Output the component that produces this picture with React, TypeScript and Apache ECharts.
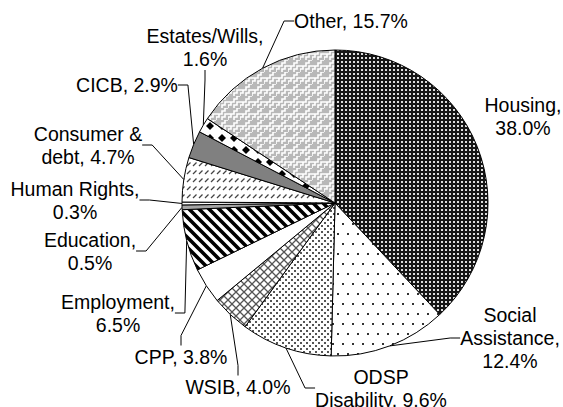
import React, { useEffect, useRef } from "react";
import * as echarts from "echarts";

const categories = [
  "Housing",
  "Social\nAssistance",
  "ODSP\nDisability",
  "WSIB",
  "CPP",
  "Employment",
  "Education",
  "Human Rights",
  "Consumer &\ndebt",
  "CICB",
  "Estates/Wills",
  "Other",
];
const values = [38.0, 12.4, 9.6, 4.0, 3.8, 6.5, 0.5, 0.3, 4.7, 2.9, 1.6, 15.7];
const separators = [",\n", ",\n", ", ", ", ", ", ", ",\n", ",\n", ",\n", ", ", ", ", ",\n", ", "];

// label block centres (layout only)
const labelPos: [number, number][] = [
  [523, 116],
  [510, 338],
  [381, 388],
  [238, 387],
  [181, 357],
  [118, 313],
  [90, 251],
  [75, 200],
  [88, 145],
  [127, 85],
  [205, 47],
  [351, 21],
];

type Ctx = CanvasRenderingContext2D;
function pat(w: number, h: number, draw: (c: Ctx) => void) {
  const cv = document.createElement("canvas");
  cv.width = w;
  cv.height = h;
  const c = cv.getContext("2d") as Ctx;
  c.fillStyle = "#fff";
  c.fillRect(0, 0, w, h);
  draw(c);
  return { image: cv, repeat: "repeat", imageWidth: w, imageHeight: h } as any;
}

function makeFills(): any[] {
  const housing = pat(4, 4, (c) => {
    c.fillStyle = "#151515";
    c.fillRect(0, 0, 4, 4);
    c.fillStyle = "#dcdcdc";
    c.fillRect(1, 1, 2, 2);
  });
  const social = pat(10, 20, (c) => {
    c.fillStyle = "#333";
    c.fillRect(2, 3, 2, 2);
    c.fillRect(7, 13, 2, 2);
  });
  const odsp = pat(6, 6, (c) => {
    c.fillStyle = "#555";
    c.fillRect(0, 0, 2, 2);
    c.fillRect(3, 3, 2, 2);
  });
  const wsib = pat(8, 8, (c) => {
    c.strokeStyle = "#555";
    c.lineWidth = 1.3;
    c.beginPath();
    c.moveTo(0, 0); c.lineTo(8, 8);
    c.moveTo(8, 0); c.lineTo(0, 8);
    c.stroke();
  });
  const employment = pat(10, 10, (c) => {
    c.strokeStyle = "#000";
    c.lineWidth = 3.6;
    c.beginPath();
    c.moveTo(-2, -2); c.lineTo(12, 12);
    c.moveTo(-7, 3); c.lineTo(7, 17);
    c.moveTo(3, -7); c.lineTo(17, 7);
    c.stroke();
  });
  const consumer = pat(6, 8, (c) => {
    c.strokeStyle = "#444";
    c.lineWidth = 1.3;
    c.beginPath();
    c.moveTo(1, 6); c.lineTo(4.5, 2.5);
    c.stroke();
  });
  const estates = pat(12, 12, (c) => {
    c.fillStyle = "#000";
    c.beginPath();
    c.moveTo(6, 2); c.lineTo(10, 6); c.lineTo(6, 10); c.lineTo(2, 6);
    c.closePath();
    c.fill();
  });
  const other = pat(12, 12, (c) => {
    c.fillStyle = "#b8b8b8";
    c.fillRect(0, 0, 12, 12);
    c.strokeStyle = "#fff";
    c.lineWidth = 1.6;
    c.beginPath();
    c.moveTo(0, 12); c.lineTo(0, 9); c.lineTo(3, 9); c.lineTo(3, 6);
    c.lineTo(6, 6); c.lineTo(6, 3); c.lineTo(9, 3); c.lineTo(9, 0); c.lineTo(12, 0);
    c.moveTo(0, 6); c.lineTo(3, 6);
    c.moveTo(6, 12); c.lineTo(6, 9); c.lineTo(9, 9); c.lineTo(9, 6); c.lineTo(12, 6);
    c.stroke();
  });
  return [
    housing,
    social,
    odsp,
    wsib,
    "#ffffff",
    employment,
    "#a6a6a6",
    "#ffffff",
    consumer,
    "#808080",
    estates,
    other,
  ];
}

export default function App() {
  const ref = useRef<HTMLDivElement>(null);
  useEffect(() => {
    if (!ref.current) return;
    const chart = echarts.init(ref.current, undefined, { renderer: "svg" });
    const fills = makeFills();
    const data = categories.map((name, i) => ({
      name,
      value: values[i],
      itemStyle: { color: fills[i] },
      labelLine: i === 0 ? { show: false } : undefined,
    }));
    chart.setOption({
      animation: false,
      backgroundColor: "#fff",
      series: [
        {
          type: "pie",
          center: [335, 203],
          radius: [0, 153],
          startAngle: 90,
          clockwise: true,
          avoidLabelOverlap: false,
          data,
          itemStyle: { borderColor: "#000", borderWidth: 1 },
          label: {
            show: true,
            position: "outside",
            color: "#000",
            fontFamily: "'Liberation Sans', Arial, sans-serif",
            fontSize: 19.5,
            lineHeight: 23,
            align: "center",
            formatter: (p: any) =>
              `${p.name}${separators[p.dataIndex]}${Number(p.value).toFixed(1)}%`,
          },
          labelLine: {
            show: true,
            length: 10,
            length2: 10,
            lineStyle: { color: "#000", width: 1 },
          },
          labelLayout: (p: any) => {
            const pos = labelPos[p.dataIndex];
            return {
              x: pos[0],
              y: pos[1],
              align: "center",
              verticalAlign: "middle",
            };
          },
          emphasis: { disabled: true },
        },
      ],
    });
    return () => chart.dispose();
  }, []);
  return (
    <div
      ref={ref}
      style={{ position: "fixed", left: 0, top: 0, width: 563, height: 407 }}
    />
  );
}
